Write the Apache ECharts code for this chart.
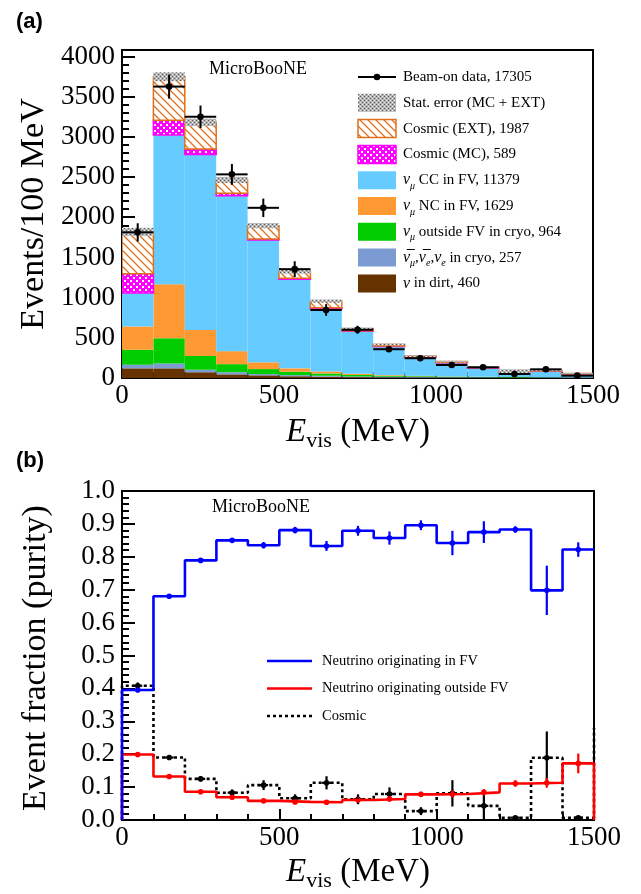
<!DOCTYPE html>
<html><head><meta charset="utf-8">
<script src="https://cdn.jsdelivr.net/npm/echarts@6/dist/echarts.min.js"></script>
<style>html,body{margin:0;padding:0;background:#fff}#c{width:641px;height:894px}</style>
</head><body><div id="c"></div>
<script>
// ---------- DATA ----------
const binEdges = [0,100,200,300,400,500,600,700,800,900,1000,1100,1200,1300,1400,1500];
// Panel (a): stacked components (events / 100 MeV), bottom to top
const nuDirt     = [120,120,72,45,33,22,16,10,7,5,3,3,2,1,1];
const nuBarCryo  = [45,60,32,27,16,14,12,10,9,8,7,6,5,4,2];
const numuOutFV  = [187,314,171,100,62,42,28,18,12,9,7,5,4,3,2];
const numuNC     = [288,671,321,162,84,42,25,15,8,5,3,2,2,1,0];
const numuCC     = [417,1858,2183,1934,1521,1108,779,530,356,232,171,108,55,75,45];
const cosmicMC   = [241,184,71,29,12,13,13,6,5,4,3,3,2,2,1];
const cosmicEXT  = [520,540,330,166,167,83,83,25,20,10,10,8,10,10,5];
const statErr    = [50,55,45,38,32,26,20,15,12,10,9,8,30,10,7];
const beamOn     = [1812,3625,3250,2533,2117,1354,846,600,358,246,162,133,50,108,29];
const beamOnErr  = [113,150,140,130,115,98,72,50,35,25,20,15,10,12,8];
const legendA = ['Beam-on data, 17305','Stat. error (MC + EXT)','Cosmic (EXT), 1987','Cosmic (MC), 589',
  'ν_μ CC in FV, 11379','ν_μ NC in FV, 1629','ν_μ outside FV in cryo, 964','ν̅_μ,ν̅_e,ν_e in cryo, 257','ν in dirt, 460'];
// Panel (b): event fractions
const purityFV    = [0.395,0.680,0.789,0.850,0.835,0.881,0.833,0.879,0.857,0.896,0.842,0.875,0.883,0.698,0.822];
const purityFVErr = [0.005,0.005,0.005,0.005,0.01,0.01,0.015,0.015,0.02,0.015,0.037,0.033,0.01,0.075,0.022];
const fracOutFV    = [0.199,0.132,0.086,0.069,0.058,0.055,0.054,0.061,0.064,0.078,0.079,0.084,0.111,0.113,0.172];
const fracOutFVErr = [0.005,0.005,0.004,0.004,0.004,0.004,0.005,0.006,0.007,0.008,0.01,0.01,0.01,0.015,0.03];
const fracCosmic    = [0.408,0.190,0.125,0.083,0.106,0.066,0.113,0.063,0.079,0.027,0.081,0.043,0.007,0.189,0.007];
const fracCosmicErr = [0.01,0.007,0.008,0.01,0.015,0.012,0.02,0.015,0.02,0.012,0.04,0.04,0.005,0.08,0.005];
const cosmicOverflow = 0.28;
const legendB = ['Neutrino originating in FV','Neutrino originating outside FV','Cosmic'];

// ---------- PATTERNS ----------
function mk(w,h,draw){const c=document.createElement('canvas');c.width=w;c.height=h;draw(c.getContext('2d'));return c;}
const hatchCanvas = mk(8,8,g=>{g.fillStyle='#fff';g.fillRect(0,0,8,8);g.strokeStyle='#e0701c';g.lineWidth=1.3;
  g.beginPath();g.moveTo(-1,-1);g.lineTo(9,9);g.moveTo(-1,7);g.lineTo(1,9);g.moveTo(7,-1);g.lineTo(9,1);g.stroke();});
const crossCanvas = mk(6,6,g=>{g.fillStyle='#ff00ff';g.fillRect(0,0,6,6);g.fillStyle='#fff';
  g.fillRect(1,1,2,2);g.fillRect(4,4,2,2);});
const statCanvas = mk(4,4,g=>{g.fillStyle='#b4b4b4';g.fillRect(0,0,4,4);g.fillStyle='#5a5a5a';
  g.fillRect(0,0,1,1);g.fillRect(2,2,1,1);g.fillStyle='#eeeeee';g.fillRect(2,0,1,1);g.fillRect(0,2,1,1);});
const hatchFill = {image:hatchCanvas, repeat:'repeat'};
const crossFill = {image:crossCanvas, repeat:'repeat'};
const statFill = {image:statCanvas, repeat:'repeat'};

// ---------- BUILD ----------
const nb = binEdges.length-1;
const layers = [
  {d:nuDirt, fill:'#663300'},
  {d:nuBarCryo, fill:'#7b9bd2'},
  {d:numuOutFV, fill:'#00cc00'},
  {d:numuNC, fill:'#ff9933'},
  {d:numuCC, fill:'#66ccff'},
  {d:cosmicMC, fill:crossFill, stroke:'#ff00ff'},
  {d:cosmicEXT, fill:hatchFill, stroke:'#e0701c'}
];
const cum = new Array(nb).fill(0);
const serif = 'Liberation Serif';
const series = [];
function rectRender(fill, stroke){
  return function(params, api){
    const a = api.coord([api.value(0), api.value(3)]);
    const b = api.coord([api.value(1), api.value(2)]);
    return {type:'rect', shape:{x:a[0], y:a[1], width:b[0]-a[0], height:b[1]-a[1]},
      style:{fill:fill, stroke:stroke||null, lineWidth:1.5}};
  };
}
layers.forEach(L=>{
  const rows=[];
  for(let i=0;i<nb;i++){rows.push([binEdges[i],binEdges[i+1],cum[i],cum[i]+L.d[i]]);cum[i]+=L.d[i];}
  series.push({type:'custom', xAxisIndex:0, yAxisIndex:0, clip:true, silent:true, data:rows,
    encode:{x:[0,1],y:[2,3]}, renderItem:rectRender(L.fill,L.stroke)});
});
// stat error band
const statRows=[];
for(let i=0;i<nb;i++) statRows.push([binEdges[i],binEdges[i+1],cum[i]-statErr[i],cum[i]+statErr[i]]);
series.push({type:'custom', xAxisIndex:0, yAxisIndex:0, clip:true, silent:true, data:statRows,
  encode:{x:[0,1],y:[2,3]}, renderItem:rectRender(statFill,null)});
// data points
const dataRows=[];
for(let i=0;i<nb;i++) dataRows.push([binEdges[i],binEdges[i+1],beamOn[i],beamOnErr[i]]);
series.push({type:'custom', xAxisIndex:0, yAxisIndex:0, clip:true, silent:true, data:dataRows,
  encode:{x:[0,1],y:2},
  renderItem:function(params, api){
    const lo=api.value(0), hi=api.value(1), v=api.value(2), e=api.value(3), m=(lo+hi)/2;
    const l=api.coord([lo,v]), r=api.coord([hi,v]), t=api.coord([m,v+e]), b=api.coord([m,v-e]), c=api.coord([m,v]);
    return {type:'group', children:[
      {type:'line', shape:{x1:l[0],y1:l[1],x2:r[0],y2:r[1]}, style:{stroke:'#000',lineWidth:2}},
      {type:'line', shape:{x1:t[0],y1:t[1],x2:b[0],y2:b[1]}, style:{stroke:'#000',lineWidth:2}},
      {type:'circle', shape:{cx:c[0],cy:c[1],r:3.3}, style:{fill:'#000'}}]};
  }});

// panel (b) step lines
function stepData(vals, endVal){
  const d=[[binEdges[0],0]];
  for(let i=0;i<nb;i++) d.push([binEdges[i],vals[i]]);
  d.push([binEdges[nb],vals[nb-1]]);
  if(endVal!==undefined) d.push([binEdges[nb],endVal]);
  return d;
}
function errRender(color, cap){
  return function(params, api){
    const lo=api.value(0), hi=api.value(1), v=api.value(2), e=api.value(3), m=(lo+hi)/2;
    const t=api.coord([m,v+e]), b=api.coord([m,v-e]), c=api.coord([m,v]);
    const ch=[{type:'line', shape:{x1:t[0],y1:t[1],x2:b[0],y2:b[1]}, style:{stroke:color,lineWidth:2.2}},
      {type:'circle', shape:{cx:c[0],cy:c[1],r:2.8}, style:{fill:color}}];
    if(cap) ch.push({type:'line', shape:{x1:c[0]-4.5,y1:c[1],x2:c[0]+4.5,y2:c[1]}, style:{stroke:color,lineWidth:2.2}});
    return {type:'group', children:ch};
  };
}
function errRows(v,e){const r=[];for(let i=0;i<nb;i++) r.push([binEdges[i],binEdges[i+1],v[i],e[i]]);return r;}
const linesB = [
  {v:fracCosmic, e:fracCosmicErr, color:'#000', type:[3,3], end:cosmicOverflow, cap:true},
  {v:fracOutFV, e:fracOutFVErr, color:'#ff0000', type:'solid', end:0, cap:false},
  {v:purityFV, e:purityFVErr, color:'#0000ff', type:'solid', end:undefined, cap:false}
];
linesB.forEach(L=>{
  series.push({type:'line', xAxisIndex:1, yAxisIndex:1, step:'end', showSymbol:false, silent:true, clip:false,
    data:stepData(L.v,L.end), lineStyle:{color:L.color, width:2.6, type:L.type}});
  series.push({type:'custom', xAxisIndex:1, yAxisIndex:1, clip:true, silent:true, data:errRows(L.v,L.e),
    encode:{x:[0,1],y:2}, renderItem:errRender(L.color, L.cap)});
});

// ---------- AXES ----------
function xAx(gi){
  return {type:'value', gridIndex:gi, min:0, max:1500, interval:500,
    axisLine:{show:true, onZero:false, lineStyle:{color:'#000', width:2}},
    axisTick:{show:true, inside:true, length:11, lineStyle:{color:'#000', width:2}},
    minorTick:{show:true, splitNumber:5, length:6, lineStyle:{color:'#000', width:2}},
    splitLine:{show:false},
    axisLabel:{fontFamily:serif, fontSize:27, color:'#000', margin:4, formatter:v=>String(v)}};
}
function yAx(gi, max, interval, fmt){
  return {type:'value', gridIndex:gi, min:0, max:max, interval:interval,
    axisLine:{show:true, lineStyle:{color:'#000', width:2}},
    axisTick:{show:true, inside:true, length:13, lineStyle:{color:'#000', width:2}},
    minorTick:{show:true, splitNumber:5, length:7, lineStyle:{color:'#000', width:2}},
    splitLine:{show:false},
    axisLabel:{fontFamily:serif, fontSize:27, color:'#000', margin:7, showMaxLabel: max>4000 ? false : true, formatter:fmt}};
}

// ---------- GRAPHICS (legends, labels) ----------
const rich = {
  n:{fontFamily:serif, fontSize:15, color:'#000', lineHeight:22, verticalAlign:'middle'},
  g:{fontFamily:serif, fontSize:16, fontStyle:'italic', color:'#000', lineHeight:22},
  s:{fontFamily:serif, fontSize:10, fontStyle:'italic', color:'#000', lineHeight:10, verticalAlign:'bottom'}
};
function richLabel(s){
  let out='';
  const parts = s.split(/(ν̅?_[μe]|ν)/);
  parts.forEach(p=>{
    if(!p) return;
    const m = p.match(/^(ν̅?)_([μe])$/);
    if(m) out += '{g|'+m[1]+'}{s|'+m[2]+'}';
    else if(p==='ν') out += '{g|ν}';
    else out += '{n|'+p+'}';
  });
  return out;
}
const graphics = [];
const legA_x0=358, legA_x1=396, legA_tx=403, legA_y0=77, legA_dy=25.8;
const legSwatch = [null, statFill, hatchFill, crossFill, '#66ccff', '#ff9933', '#00cc00', '#7b9bd2', '#663300'];
const legStroke = [null, null, '#e0701c', '#ff00ff', null, null, null, null, null];
legendA.forEach((t,i)=>{
  const y = legA_y0 + i*legA_dy;
  if(i===0){
    graphics.push({type:'line', shape:{x1:legA_x0,y1:y,x2:legA_x1,y2:y}, style:{stroke:'#000',lineWidth:2}});
    graphics.push({type:'circle', shape:{cx:(legA_x0+legA_x1)/2, cy:y, r:3.3}, style:{fill:'#000'}});
  } else {
    graphics.push({type:'rect', shape:{x:legA_x0, y:y-9, width:legA_x1-legA_x0, height:18},
      style:{fill:legSwatch[i], stroke:legStroke[i], lineWidth:1.5}});
  }
  graphics.push({type:'text', x:legA_tx, y:y, style:{text:richLabel(t), rich:rich, verticalAlign:'middle', align:'left'}});
});
const legB_x0=267, legB_x1=312, legB_tx=322, legB_y0=661, legB_dy=27.5;
linesB.slice().reverse().forEach((L,i)=>{
  const y = legB_y0 + i*legB_dy;
  graphics.push({type:'line', shape:{x1:legB_x0,y1:y,x2:legB_x1,y2:y},
    style:{stroke:L.color, lineWidth:2.6, lineDash: L.type==='solid'?null:[3,3]}});
  graphics.push({type:'text', x:legB_tx, y:y, style:{text:legendB[i], fontFamily:serif, fontSize:14.5, fill:'#000', verticalAlign:'middle'}});
});
graphics.push({type:'text', x:209, y:69, style:{text:'MicroBooNE', fontFamily:serif, fontSize:18, fill:'#000', verticalAlign:'middle'}});
graphics.push({type:'text', x:212, y:507, style:{text:'MicroBooNE', fontFamily:serif, fontSize:18, fill:'#000', verticalAlign:'middle'}});
graphics.push({type:'text', x:16, y:22, style:{text:'(a)', fontFamily:'Liberation Sans', fontWeight:'bold', fontSize:22, fill:'#000', verticalAlign:'middle'}});
graphics.push({type:'text', x:16, y:461, style:{text:'(b)', fontFamily:'Liberation Sans', fontWeight:'bold', fontSize:22, fill:'#000', verticalAlign:'middle'}});
const xtRich = {
  e:{fontFamily:serif, fontSize:33, fontStyle:'italic', color:'#000', lineHeight:40},
  v:{fontFamily:serif, fontSize:22, color:'#000', lineHeight:22, verticalAlign:'bottom'},
  t:{fontFamily:serif, fontSize:33, color:'#000', lineHeight:40}
};
graphics.push({type:'text', x:358, y:432, style:{text:'{e|E}{v|vis}{t| (MeV)}', rich:xtRich, align:'center', verticalAlign:'middle'}});
graphics.push({type:'text', x:358, y:872, style:{text:'{e|E}{v|vis}{t| (MeV)}', rich:xtRich, align:'center', verticalAlign:'middle'}});
graphics.push({type:'text', x:34, y:214, rotation:Math.PI/2, style:{text:'Events/100 MeV', fontFamily:serif, fontSize:34, fill:'#000', align:'center', verticalAlign:'middle'}});
graphics.push({type:'text', x:36, y:658, rotation:Math.PI/2, style:{text:'Event fraction (purity)', fontFamily:serif, fontSize:34, fill:'#000', align:'center', verticalAlign:'middle'}});

const chart = echarts.init(document.getElementById('c'), null, {renderer:'canvas'});
chart.setOption({
  animation:false,
  backgroundColor:'#fff',
  grid:[
    {left:122, top:50, width:471, height:328, show:true, borderColor:'#000', borderWidth:2, backgroundColor:'transparent', containLabel:false},
    {left:122, top:491, width:472, height:329, show:true, borderColor:'#000', borderWidth:2, backgroundColor:'transparent', containLabel:false}
  ],
  xAxis:[xAx(0), xAx(1)],
  yAxis:[yAx(0, 4080, 500, v=>String(v)), yAx(1, 1.0, 0.1, v=>v.toFixed(1))],
  series:series,
  graphic:{elements:graphics}
});
</script></body></html>
